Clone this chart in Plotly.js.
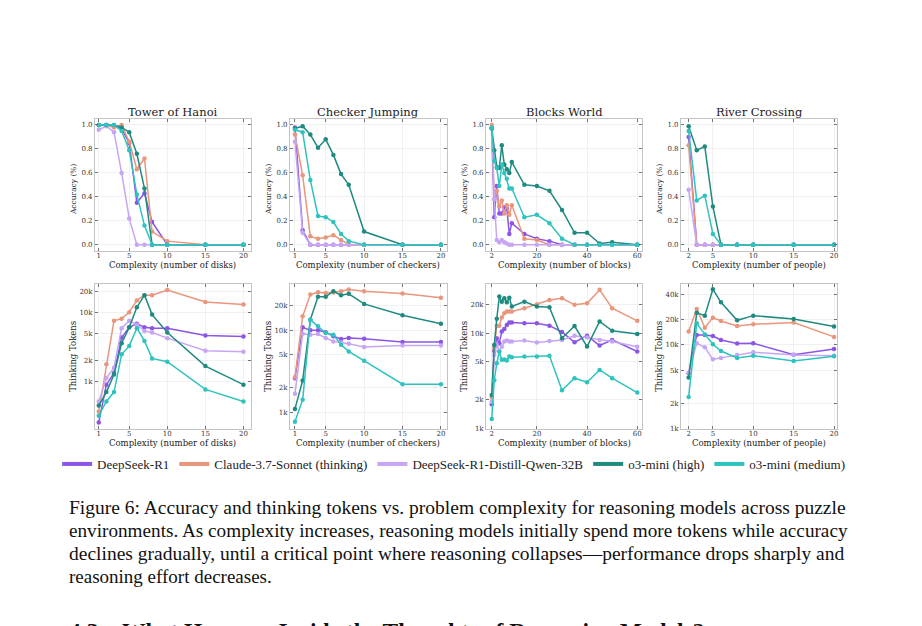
<!DOCTYPE html>
<html><head><meta charset="utf-8">
<script src="https://cdn.plot.ly/plotly-3.0.1.min.js"></script>
<style>html,body{margin:0;padding:0;background:#fff}#chart{width:922px;height:626px}</style>
</head><body><div id="chart"></div>
<script>
// ---- data ----
const models = ['DeepSeek-R1','Claude-3.7-Sonnet (thinking)','DeepSeek-R1-Distill-Qwen-32B','o3-mini (high)','o3-mini (medium)'];
const colors = ['#8b55e6','#e9967c','#c6a6f4','#1f8a80','#2fc3bf'];
const puzzles = ['Tower of Hanoi','Checker Jumping','Blocks World','River Crossing'];
const xTitles = ['Complexity (number of disks)','Complexity (number of checkers)','Complexity (number of blocks)','Complexity (number of people)'];
const yTitles = ['Accuracy (%)','Thinking Tokens'];

const hanoiX = [1,2,3,4,5,6,7,8,10,15,20];
const hanoiAcc = [
  [1.0,1.0,0.99,0.97,0.85,0.35,0.43,0.19,0.0,0.0,0.0],
  [1.0,1.0,0.98,1.0,0.86,0.63,0.72,0.11,0.03,0.0,0.0],
  [0.96,0.99,0.94,0.60,0.22,0.0,0.0,0.0,0.0,0.0,0.0],
  [1.0,1.0,1.0,0.98,0.94,0.76,0.47,0.0,0.0,0.0,0.0],
  [1.0,1.0,1.0,0.95,0.79,0.42,0.16,0.0,0.0,0.0,0.0]
];
const hanoiTok = [
  [263,915,1350,4350,6070,6860,6070,5900,5900,4640,4500],
  [376,1800,7570,8100,10000,14800,17600,17600,20800,14000,12900],
  [525,1140,1600,5900,7570,6600,5400,5130,4250,2810,2720],
  [459,716,1280,3600,6070,11800,17600,9250,5130,1690,915],
  [329,525,716,2490,3290,5900,3880,2180,1950,783,525]
];

const checkerX = [1,2,3,4,5,6,7,8,10,15,20];
const checkerAcc = [
  [0.98,0.12,0.0,0.0,0.0,0.0,0.0,0.0,0.0,0.0,0.0],
  [0.92,0.58,0.07,0.05,0.06,0.08,0.04,0.0,0.0,0.0,0.0],
  [0.86,0.10,0.0,0.0,0.0,0.0,0.0,0.0,0.0,0.0,0.0],
  [0.97,0.99,0.92,0.81,0.88,0.75,0.59,0.50,0.11,0.0,0.0],
  [0.96,0.94,0.54,0.24,0.23,0.19,0.09,0.03,0.0,0.0,0.0]
];
const checkerTok = [
  [2600,10900,10000,10000,9500,8450,7830,8050,7900,7200,7200],
  [2680,14800,27300,29200,28600,29000,30000,31500,30000,28100,24900],
  [1680,9100,8850,9000,8050,7330,7100,6870,6250,6550,6550],
  [1100,2440,13500,25600,25600,30000,26800,27900,21000,15300,12000],
  [769,1420,13500,11200,9270,8840,6670,5530,4260,2200,2200]
];

const blocksX = [2,3,4,5,6,7,8,9,10,15,20,25,30,35,40,45,50,60];
const blocksAcc = [
  [0.98,0.23,0.49,0.26,0.26,0.31,0.30,0.09,0.18,0.09,0.05,0.03,0.0,0.0,0.0,0.0,0.0,0.0],
  [1.0,0.38,0.45,0.32,0.37,0.26,0.33,0.25,0.33,0.05,0.04,0.0,0.0,0.0,0.0,0.0,0.0,0.0],
  [0.97,0.38,0.04,0.02,0.04,0.02,0.01,0.0,0.0,0.0,0.0,0.0,0.0,0.0,0.0,0.0,0.0,0.0],
  [0.97,0.79,0.65,0.64,0.83,0.67,0.63,0.60,0.69,0.50,0.49,0.45,0.29,0.10,0.10,0.01,0.02,0.0],
  [0.98,0.70,0.64,0.49,0.67,0.60,0.55,0.47,0.47,0.23,0.25,0.18,0.05,0.0,0.0,0.0,0.0,0.0]
];
const blocksTok = [
  [1790,6500,8860,7850,10400,11100,12200,13000,13000,12700,12700,12000,10300,8030,9420,7420,8500,6420],
  [2100,7000,12000,12000,14600,16200,16900,16900,16900,18300,20200,22400,23300,19900,20700,28600,18300,13500],
  [1900,5900,7500,6500,7200,8200,8400,8200,8200,8400,8000,8300,8500,9400,9000,8500,8200,7200],
  [2240,7530,14200,24300,21500,23300,21200,23700,19100,21500,19100,18800,8860,11900,7240,13300,10600,9830],
  [1250,3200,4830,6400,5250,5300,5150,5700,5600,5700,5700,5800,2510,3360,3050,4110,3360,2370]
];

const riverX = [2,3,4,5,6,8,10,15,20];
const riverAcc = [
  [0.90,0.0,0.0,0.0,0.0,0.0,0.0,0.0,0.0],
  [0.83,0.0,0.0,0.0,0.0,0.0,0.0,0.0,0.0],
  [0.46,0.0,0.0,0.0,0.0,0.0,0.0,0.0,0.0],
  [0.99,0.79,0.82,0.32,0.0,0.0,0.0,0.0,0.0],
  [0.95,0.37,0.41,0.09,0.0,0.0,0.0,0.0,0.0]
];
const riverTok = [
  [4570,13200,13200,12800,11500,10400,10500,7660,8950],
  [14500,27000,16100,21300,19400,16900,17700,18600,12500],
  [4650,10500,9400,6730,7000,7600,8170,7600,7440],
  [4060,24400,22500,46600,32500,19800,22500,20500,16700],
  [2380,18200,13400,10200,8470,6980,7440,6430,7300]
];

const accTickVals = [0,0.2,0.4,0.6,0.8,1.0];
const accTickText = ['0.0','0.2','0.4','0.6','0.8','1.0'];
const tokTickVals = [1000,2000,5000,10000,20000,40000];
const tokTickText = ['1k','2k','5k','10k','20k','40k'];
const xTickVals = [[1,5,10,15,20],[1,5,10,15,20],[2,20,40,60],[2,5,10,15,20]];

const captionLines = [
  'Figure 6: Accuracy and thinking tokens vs. problem complexity for reasoning models across puzzle',
  'environments. As complexity increases, reasoning models initially spend more tokens while accuracy',
  'declines gradually, until a critical point where reasoning collapses\u2014performance drops sharply and',
  'reasoning effort decreases.'
];
const headingText = '4.3\u2002\u2002What Happens Inside the Thoughts of Reasoning Models?';

// ---- layout ----
const W = 922, H = 626;
const xsets = [hanoiX, checkerX, blocksX, riverX];
const accSets = [hanoiAcc, checkerAcc, blocksAcc, riverAcc];
const tokSets = [hanoiTok, checkerTok, blocksTok, riverTok];

const colDom = [[0.1030,0.2719],[0.3145,0.4845],[0.5271,0.6966],[0.7386,0.9081]];
const rowDom = [[0.5995,0.8099],[0.3152,0.5463]];
const xRanges = [[0.5,20.95],[0.35,20.75],[-0.3,62],[1.05,20.4]];
const tokRanges = [[2.33,4.405],[2.80,4.565],[2.995,4.518],[2.995,4.732]];
const capSizes = [19.5,19.2,19.5,19];

const FONT = 'DejaVu Serif';
const SERIF = "'Liberation Serif', Tinos, 'Times New Roman', Times, serif";
const baseAx = {
  showline:true, linecolor:'#c4c4c4', linewidth:1, mirror:'ticks',
  ticks:'inside', ticklen:3, tickwidth:0.8, tickcolor:'#555',
  showgrid:true, gridcolor:'#eeeeee', gridwidth:0.8, zeroline:false,
  tickfont:{family:FONT, size:7, color:'#333'}, fixedrange:true
};

const data = [];
const layout = {
  width:W, height:H, margin:{l:0,r:0,t:0,b:0},
  paper_bgcolor:'#ffffff', plot_bgcolor:'#ffffff',
  showlegend:true,
  legend:{orientation:'h', x:0.492, xanchor:'center', y:0.2588, yanchor:'middle',
          font:{family:SERIF, size:13, color:'#222'}, bgcolor:'rgba(0,0,0,0)', traceorder:'normal'},
  annotations:[]
};

for (let r=0; r<2; r++) {
  for (let c=0; c<4; c++) {
    const k = r*4 + c + 1;
    const xa = 'xaxis' + (k===1?'':k), ya = 'yaxis' + (k===1?'':k);
    const xr = 'x' + (k===1?'':k), yr = 'y' + (k===1?'':k);
    layout[xa] = Object.assign({}, baseAx, {
      domain: colDom[c], anchor: yr, range: xRanges[c], ticklabelstandoff:-2,
      tickmode:'array', tickvals: xTickVals[c], ticktext: xTickVals[c].map(String)
    });
    if (r===0) {
      layout[ya] = Object.assign({}, baseAx, {
        domain: rowDom[0], anchor: xr, range:[-0.05,1.05],
        tickmode:'array', tickvals: accTickVals, ticktext: accTickText
      });
    } else {
      const tv = c===3 ? tokTickVals : tokTickVals.slice(0,5);
      const tt = c===3 ? tokTickText : tokTickText.slice(0,5);
      layout[ya] = Object.assign({}, baseAx, {
        domain: rowDom[1], anchor: xr, type:'log', range: tokRanges[c],
        tickmode:'array', tickvals: tv, ticktext: tt
      });
    }
    // axis titles
    layout.annotations.push({
      text: xTitles[c], xref:'paper', yref:'paper',
      x:(colDom[c][0]+colDom[c][1])/2, y:rowDom[r][0], yshift:-14,
      xanchor:'center', yanchor:'middle', showarrow:false,
      font:{family:FONT, size:8.5, color:'#222'}
    });
    layout.annotations.push({
      text: yTitles[r], xref:'paper', yref:'paper', textangle:-90,
      x:colDom[c][0], xshift:-21.5, y:(rowDom[r][0]+rowDom[r][1])/2 + (r===0?-0.006:0),
      xanchor:'center', yanchor:'middle', showarrow:false,
      font:{family:FONT, size: r===0 ? 7.5 : 8.5, color:'#222'}
    });
    const ys = r===0 ? accSets[c] : tokSets[c];
    for (let m=0; m<5; m++) {
      data.push({
        x: xsets[c], y: ys[m], xaxis: xr, yaxis: yr, type:'scatter',
        mode:'lines+markers', line:{color:colors[m], width:1.5},
        marker:{color:colors[m], size:4.5}, showlegend:false, hoverinfo:'skip'
      });
    }
  }
}
for (let c=0; c<4; c++) {
  layout.annotations.push({
    text: puzzles[c], xref:'paper', yref:'paper',
    x:(colDom[c][0]+colDom[c][1])/2, y:rowDom[0][1], xanchor:'center', yanchor:'bottom',
    yshift:-2, showarrow:false, font:{family:FONT, size:11.5, color:'#222'}
  });
}
for (let m=0; m<5; m++) {
  data.push({x:[null], y:[null], xaxis:'x', yaxis:'y', type:'scatter', mode:'lines',
    line:{color:colors[m], width:4}, name: models[m], showlegend:true, hoverinfo:'skip'});
}
const capY = [507, 530, 553, 576];
captionLines.forEach((t,i) => {
  layout.annotations.push({
    text:t, xref:'paper', yref:'paper', x:67/W, y:1-capY[i]/H,
    xanchor:'left', yanchor:'middle', showarrow:false,
    font:{family:SERIF, size:capSizes[i], color:'#111'}
  });
});
layout.annotations.push({
  text:'<b>'+headingText+'</b>', xref:'paper', yref:'paper', x:67/W, y:1-616/H,
  xanchor:'left', yanchor:'top', showarrow:false,
  font:{family:SERIF, size:23.5, color:'#111'}
});

Plotly.newPlot('chart', data, layout, {staticPlot:true, displayModeBar:false});
</script></body></html>
